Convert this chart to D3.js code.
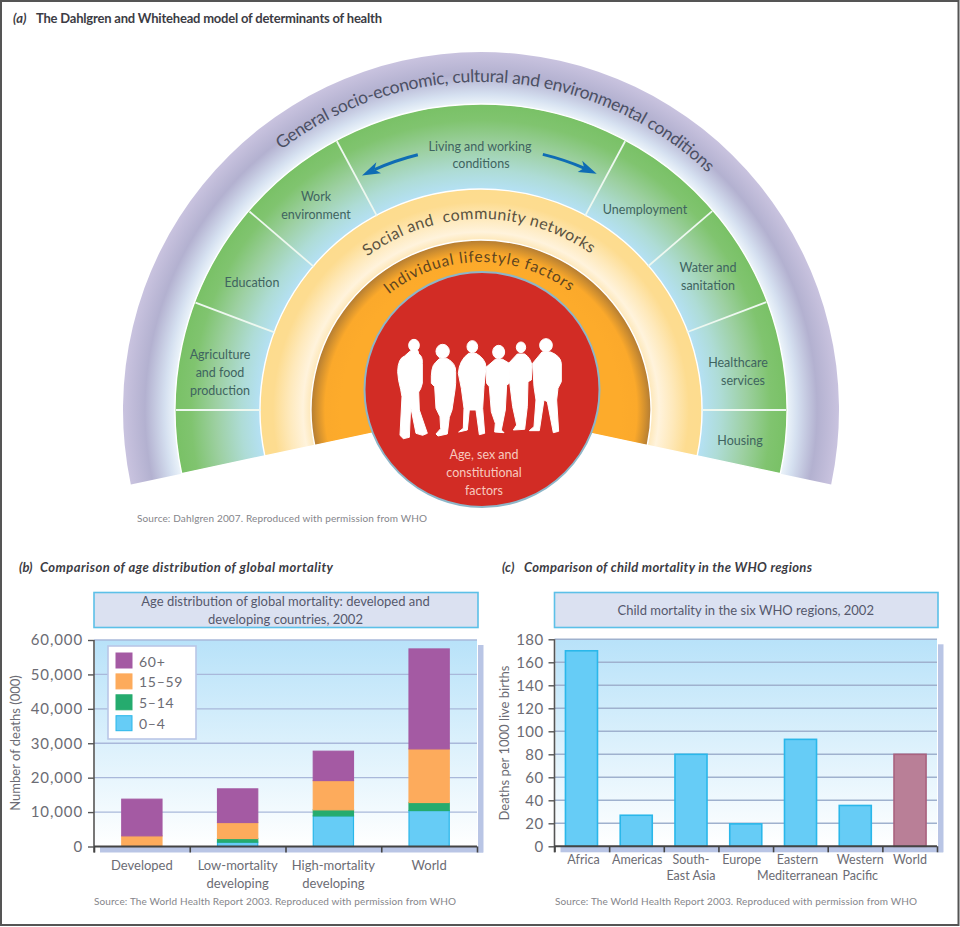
<!DOCTYPE html>
<html><head><meta charset="utf-8">
<script src="https://cdn.jsdelivr.net/npm/d3@7/dist/d3.min.js"></script>
<style>
html,body{margin:0;padding:0;background:#fff}
svg{display:block}
text{font-family:Lato,"Open Sans",sans-serif}
</style></head><body>
<svg id="c" width="960" height="927"></svg>
<script>
// ---- data ----
const sectionTitles = ["The Dahlgren and Whitehead model of determinants of health","Comparison of age distribution of global mortality","Comparison of child mortality in the WHO regions"];
const greenDividerDegrees = [-90,-69.4,-49.4,-28.2,28.2,49.3,69.3,90];
const ageSeries = ["0–4","5–14","15–59","60+"];
const ageColors = ["#66ccf6","#25ab6e","#fdab5c","#a45aa3"];
const ageStrokes = ["#2ab7ea","#25ab6e","#fdab5c","#a45aa3"];
const ageCategories = ["Developed","Low-mortality developing","High-mortality developing","World"];
const age0to4   = [0,1260,8900,10450];
const age5to14  = [0,1060,1750,2330];
const age15to59 = [3100,4650,8510,15580];
const age60plus = [10640,9770,8520,29040];
const ageTicks = [0,10000,20000,30000,40000,50000,60000];
const whoRegions = ["Africa","Americas","South-East Asia","Europe","Eastern Mediterranean","Western Pacific","World"];
const whoLabels = [["Africa"],["Americas"],["South-","East Asia"],["Europe"],["Eastern","Mediterranean"],["Western","Pacific"],["World"]];
const whoDeaths = [170,27,80,19.5,93,35.5,80];
const whoTicks = [0,20,40,60,80,100,120,140,160,180];

const svg = d3.select("#c");
const defs = svg.append("defs");
const W=960,H=927;
svg.append("rect").attr("x",1).attr("y",1).attr("width",W-2.5).attr("height",H-3).attr("fill","#fff").attr("stroke","#555").attr("stroke-width",2);

// ---- (a) rainbow ----
const cx=481, cy=410, rad=d=>d*Math.PI/180, endA=rad(102);
function radial(id,rMax,stops){
  const g=defs.append("radialGradient").attr("id",id).attr("gradientUnits","userSpaceOnUse")
    .attr("cx",0).attr("cy",0).attr("r",rMax);
  stops.forEach(([r,c])=>g.append("stop").attr("offset",r/rMax).attr("stop-color",c));
}
radial("gP",358,[[305,"#eef6fb"],[316,"#d5e0f0"],[336,"#b3b1d0"],[358,"#c9c3df"]]);
radial("gG",306,[[220,"#b5e1f6"],[240,"#aedcd6"],[265,"#9dd0a2"],[290,"#80c46f"],[306,"#79c166"]]);
radial("gY",221,[[169,"#fde6b4"],[178,"#fff3dc"],[192,"#fee9bb"],[208,"#fddc90"],[221,"#fddc8e"]]);
radial("gO",170,[[140,"#fdab2b"],[156,"#fba92b"],[164,"#d2902f"],[170,"#b37c33"]]);
const arc=d3.arc();
const rings=[[305,358,"gP"],[220,306,"gG"],[169,221,"gY"],[110,170,"gO"]];
const g=svg.append("g").attr("transform",`translate(${cx},${cy})`);
g.selectAll("path.ring").data(rings).join("path").attr("class","ring")
  .attr("d",d=>arc({innerRadius:d[0],outerRadius:d[1],startAngle:-endA,endAngle:endA}))
  .attr("fill",d=>`url(#${d[2]})`).attr("stroke","#fff").attr("stroke-width",d=>d[2]=="gP"?0:1.4);
g.selectAll("line.div").data(greenDividerDegrees).join("line").attr("class","div")
  .attr("x1",d=>d3.pointRadial(rad(d),220)[0]).attr("y1",d=>d3.pointRadial(rad(d),220)[1])
  .attr("x2",d=>d3.pointRadial(rad(d),305)[0]).attr("y2",d=>d3.pointRadial(rad(d),305)[1])
  .attr("stroke","#eef8f0").attr("stroke-width",1.8);

// curved labels
const curved=[
 {t:"General socio-economic, cultural and environmental conditions",r:328,a0:-37.5,a1:43.7,s:17.5,c:"#4c5064"},
 {t:"Social and  community networks",r:191,a0:-36.5,a1:35,s:16,c:"#5a5240"},
 {t:"Individual lifestyle factors",r:148,a0:-38.5,a1:36.7,s:15.5,c:"#5f4520"}];
curved.forEach((d,i)=>{
  const p=d3.path(); p.arc(0,0,d.r,rad(d.a0-90),rad(d.a1-90),false);
  g.append("path").attr("id","cp"+i).attr("d",p.toString()).attr("fill","none");
  g.append("text").attr("font-size",d.s).attr("fill",d.c).attr("textLength",d.r*rad(d.a1-d.a0)).attr("lengthAdjust","spacing")
   .style("white-space","pre")
   .append("textPath").attr("href","#cp"+i).text(d.t);
});

// arrows
[[-13.9,-26.9],[13.6,26.1]].forEach(([a0,a1])=>{
  const s=Math.sign(a1), r=263, stem=a1-s*3, p=d3.path();
  const lo=Math.min(a0,stem), hi=Math.max(a0,stem);
  p.arc(0,0,r,rad(lo-90),rad(hi-90),false);
  g.append("path").attr("d",p.toString()).attr("fill","none").attr("stroke","#0f6cb4").attr("stroke-width",3);
  const pts=[d3.pointRadial(rad(a1),r),d3.pointRadial(rad(a1-s*4),r+6),d3.pointRadial(rad(a1-s*3),r),d3.pointRadial(rad(a1-s*4),r-6)];
  g.append("polygon").attr("points",pts.map(q=>q.join(",")).join(" ")).attr("fill","#0f6cb4");
});

// red circle and people
svg.append("circle").attr("cx",482).attr("cy",389.5).attr("r",117.5).attr("fill","#d22c25").attr("stroke","#8db6c8").attr("stroke-width",2);
const people=svg.append("g").attr("transform","translate(390,330) scale(0.3333)").attr("fill","#fff").attr("stroke","#fff").attr("stroke-width",3).attr("stroke-linejoin","round");
const heads=[[72,46,16,18],[158,64,20,21],[247,50,16,18],[326,66,18,20],[393,52,14,16],[468,46,19,20]];
const bodies=[
"M62,62L84,62L86,72Q98,78 97,100L97,160Q92,180 86,186L88,240L112,310L98,316L78,310L62,230L58,322L40,326L30,316L36,200L32,178Q24,150 23,125Q24,85 44,78Z",
"M148,86L172,86Q198,100 197,125L197,160L195,180L186,240L178,262L172,312L144,318L138,312L152,296L150,260L138,235L134,170L124,160Q122,110 136,98Z",
"M236,70L258,70Q286,86 288,110L282,170L278,235L284,310L268,314L258,240L238,240L232,300L206,306L220,295L222,235L214,175L205,130Q208,90 236,70Z",
"M316,88L338,88L358,100L358,160L350,165L346,240L334,300L342,308L314,306L316,280L304,245L298,170L290,160L288,112Z",
"M382,72L404,72Q424,85 426,110L424,150L414,155L412,230L404,298L370,300L380,285L368,230L360,165L356,100Z",
"M456,66L482,66Q512,78 514,100L514,155L504,175L500,210L506,304L490,308L472,215L462,210L448,302L418,302L432,290L438,210L432,170L428,100Z"];
people.selectAll("ellipse").data(heads).join("ellipse").attr("cx",d=>d[0]).attr("cy",d=>d[1]).attr("rx",d=>d[2]).attr("ry",d=>d[3]);
people.selectAll("path").data(bodies).join("path").attr("d",d=>d);

function label(x,y,t,o={}){
  return svg.append("text").attr("x",x).attr("y",y).attr("text-anchor",o.a||"middle").attr("dominant-baseline","central")
    .attr("font-size",o.s||12.5).attr("fill",o.c||"#3f6460").attr("font-weight",o.w||400).attr("font-style",o.i||"normal")
    .attr("letter-spacing",o.ls||0).text(t);
}
[[480,146,"Living and working"],[481,163,"conditions"],[316,196,"Work"],[316,214,"environment"],[252,282,"Education"],
 [220,354,"Agriculture"],[220,372,"and food"],[220,390,"production"],[645,209,"Unemployment"],[708,267,"Water and"],[708,285,"sanitation"],
 [738,362,"Healthcare"],[743,380,"services"],[740,440,"Housing"]].forEach(d=>label(d[0],d[1],d[2]));
[[484,454,"Age, sex and"],[484,472,"constitutional"],[484,490,"factors"]].forEach(d=>label(d[0],d[1],d[2],{c:"#f7c9bf",s:12.5}));
label(137,518,"Source: Dahlgren 2007. Reproduced with permission from WHO",{a:"start",s:10,c:"#85858a"}).attr("textLength",290);

// section titles
function section(x,tag,xt,t,len,y,it){
  label(x,y,tag,{a:"start",s:13,c:"#3c3c44",w:700,i:"italic"});
  label(xt,y,t,{a:"start",s:13,c:"#3c3c44",w:700,i:it}).attr("textLength",len);
}
section(13,"(a)",36,sectionTitles[0],346,18,"normal");
section(19,"(b)",40,sectionTitles[1],293,567,"italic");
section(502,"(c)",524,sectionTitles[2],288,567,"italic");

// ---- shared chart frame ----
const bgG=defs.append("linearGradient").attr("id","bg").attr("x1",0).attr("y1",0).attr("x2",0).attr("y2",1);
bgG.append("stop").attr("offset",0).attr("stop-color","#b8e2f9");
bgG.append("stop").attr("offset",1).attr("stop-color","#ffffff");
function frame(o){
  const n=o.n, y=d3.scaleLinear().domain(o.dom).range([o.y0,o.y1]);
  const edge=d3.scaleLinear().domain([0,n]).range([o.x0,o.x1]);
  svg.append("rect").attr("x",o.x0+1).attr("y",o.y1).attr("width",o.x1-o.x0-1).attr("height",o.y0-o.y1).attr("fill","url(#bg)");
  svg.append("rect").attr("x",o.x1+1).attr("y",o.y1+5).attr("width",5.5).attr("height",o.y0-o.y1+1).attr("fill","#b9c5e5");
  svg.append("rect").attr("x",o.x0+6).attr("y",o.y0).attr("width",o.x1-o.x0).attr("height",6).attr("fill","#b9c5e5");
  svg.append("g").selectAll("line").data(o.ticks.filter(t=>t>0)).join("line").attr("x1",o.x0).attr("x2",o.x1)
    .attr("y1",d=>y(d)).attr("y2",d=>y(d)).attr("stroke",o.grid).attr("stroke-width",1.4);
  svg.append("rect").attr("x",o.x0).attr("y",592.5).attr("width",o.x1-o.x0+1).attr("height",35).attr("fill","#dbe1f1").attr("stroke","#5cc0e8").attr("stroke-width",1.6);
  o.title.forEach((t,i)=>label((o.x0+o.x1)/2,o.titleY+i*18,t,{s:13,c:"#55586c"}));
  return {y,edge};
}
function axes(o,f,marks){
  marks();
  const ax=svg.append("g").attr("transform",`translate(${o.x0},0)`)
    .call(d3.axisLeft(f.y).tickValues(o.ticks).tickSize(6).tickPadding(o.pad).tickFormat(o.fmt));
  ax.select(".domain").attr("stroke","#555").attr("stroke-width",1.6).attr("d",`M0,${o.y1}V${o.y0+6}`);
  ax.selectAll(".tick line").attr("stroke","#555").attr("stroke-width",1.4);
  ax.selectAll("text").attr("font-size",o.tickSize).attr("fill","#6c6c74").attr("font-family","Lato").attr("letter-spacing",o.tickLs);
  const bx=svg.append("g").attr("transform",`translate(0,${o.y0})`)
    .call(d3.axisBottom(f.edge).ticks(o.n).tickSize(6).tickFormat(""));
  bx.select(".domain").attr("stroke","#444").attr("stroke-width",2).attr("d",`M${o.x0},0H${o.x1}`);
  bx.selectAll(".tick line").attr("stroke","#444").attr("stroke-width",1.6);
  svg.append("text").attr("transform",`translate(${o.yLabX},${o.yLabY}) rotate(-90)`).attr("text-anchor","middle").attr("dominant-baseline","central")
    .attr("font-size",13).attr("fill","#6c6c74").text(o.yLab);
}

// ---- (b) ----
const bCfg={n:ageCategories.length,dom:[0,60000],y0:846.5,y1:640,x0:94,x1:477,ticks:ageTicks,grid:"#a9b8da",
  title:["Age distribution of global mortality: developed and","developing countries, 2002"],titleY:600.5,
  fmt:d3.format(","),pad:5,tickSize:15,tickLs:.9,yLab:"Number of deaths (000)",yLabX:15,yLabY:743};
const fb=frame(bCfg);
const xb=d3.scaleBand().domain(ageCategories).range([94,477]).paddingInner(.58).paddingOuter(.29);
const rowsB=ageCategories.map((c,i)=>({c,"0–4":age0to4[i],"5–14":age5to14[i],"15–59":age15to59[i],"60+":age60plus[i]}));
const stackB=d3.stack().keys(ageSeries)(rowsB);
axes(bCfg,fb,()=>{
  svg.append("g").selectAll("g").data(stackB).join("g").attr("fill",(d,i)=>ageColors[i]).attr("stroke",(d,i)=>ageStrokes[i]).attr("stroke-width",1.2)
   .selectAll("rect").data(d=>d.filter(s=>s[1]>s[0])).join("rect")
   .attr("x",d=>xb(d.data.c)).attr("width",xb.bandwidth()).attr("y",d=>fb.y(d[1])).attr("height",d=>fb.y(d[0])-fb.y(d[1]));
});
// legend
svg.append("rect").attr("x",108).attr("y",646).attr("width",88).attr("height",93).attr("fill","#fff").attr("stroke","#b9c6e6").attr("stroke-width",1.6);
const legendOrder=[...ageSeries.keys()].reverse();
const lg=svg.append("g").selectAll("g").data(legendOrder).join("g").attr("transform",(d,i)=>`translate(116,${653+i*20.9})`);
lg.append("rect").attr("width",16).attr("height",15).attr("fill",d=>ageColors[d]).attr("stroke",d=>ageStrokes[d]);
lg.append("text").attr("x",23).attr("y",8).attr("dominant-baseline","central").attr("font-size",14).attr("letter-spacing",.7).attr("fill","#6c6c74").text(d=>ageSeries[d]);
// x labels
ageCategories.forEach(c=>{
  const parts=c.split(" "), xc=xb(c)+xb.bandwidth()/2;
  parts.forEach((t,i)=>label(xc,865+i*18,t,{s:13,c:"#6c6c74"}));
});
label(275,901,"Source: The World Health Report 2003. Reproduced with permission from WHO",{s:10,c:"#85858a"}).attr("textLength",362);

// ---- (c) ----
const cCfg={n:whoRegions.length,dom:[0,180],y0:846.3,y1:639.3,x0:554.5,x1:937,ticks:whoTicks,grid:"#9fb1ce",
  title:["Child mortality in the six WHO regions, 2002"],titleY:609.5,
  fmt:d=>d,pad:5,tickSize:15,tickLs:.4,yLab:"Deaths per 1000 live births",yLabX:504,yLabY:743};
const fc=frame(cCfg);
const xc=d3.scaleBand().domain(whoRegions).range([554.5,937]).paddingInner(.415).paddingOuter(.2);
axes(cCfg,fc,()=>{
  svg.append("g").selectAll("rect").data(whoDeaths).join("rect")
   .attr("x",(d,i)=>xc(whoRegions[i])).attr("width",xc.bandwidth()).attr("y",d=>fc.y(d)).attr("height",d=>fc.y(0)-fc.y(d))
   .attr("fill",(d,i)=>i==6?"#b97f97":"#66ccf6").attr("stroke",(d,i)=>i==6?"#a9627f":"#2ab7ea").attr("stroke-width",1.6);
});
const whoNudge=[2,1,0,-4,-3,5,0];
whoLabels.forEach((ls,i)=>{
  const xm=xc(whoRegions[i])+xc.bandwidth()/2+whoNudge[i];
  ls.forEach((t,j)=>label(xm,859+j*16.5,t,{s:12.5,c:"#6c6c74"}));
});
label(736,901,"Source: The World Health Report 2003. Reproduced with permission from WHO",{s:10,c:"#85858a"}).attr("textLength",362);
</script></body></html>
